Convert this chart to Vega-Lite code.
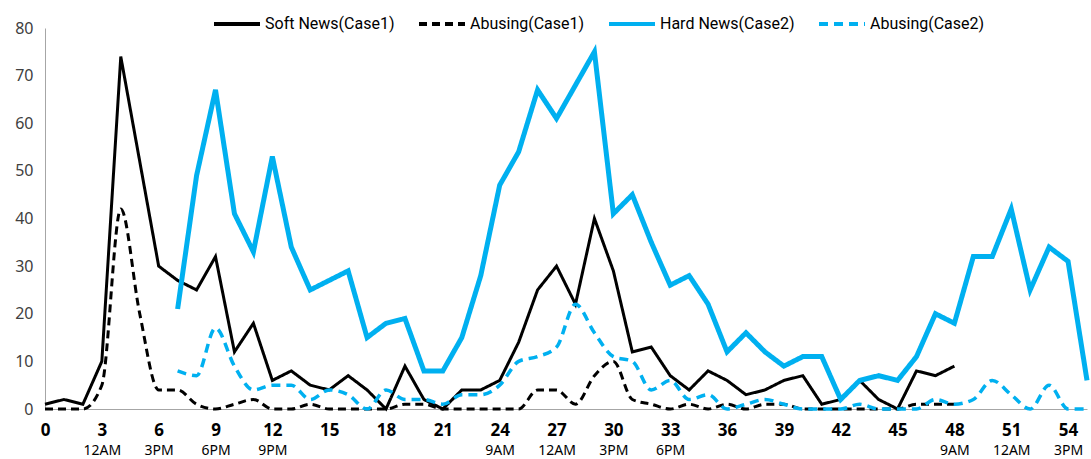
{
  "$schema": "https://vega.github.io/schema/vega-lite/v6.json",
  "width": 1042,
  "height": 381,
  "autosize": {"type": "none"},
  "padding": {"left": 45, "top": 28, "right": 4, "bottom": 50},
  "background": "white",
  "config": {"view": {"stroke": null}, "font": "Noto Sans"},
  "data": {"values": [
    {"t":0,"s":"Soft News(Case1)","v":1},{"t":1,"s":"Soft News(Case1)","v":2},{"t":2,"s":"Soft News(Case1)","v":1},{"t":3,"s":"Soft News(Case1)","v":10},{"t":4,"s":"Soft News(Case1)","v":74},{"t":5,"s":"Soft News(Case1)","v":52},{"t":6,"s":"Soft News(Case1)","v":30},{"t":7,"s":"Soft News(Case1)","v":27},{"t":8,"s":"Soft News(Case1)","v":25},{"t":9,"s":"Soft News(Case1)","v":32},{"t":10,"s":"Soft News(Case1)","v":12},{"t":11,"s":"Soft News(Case1)","v":18},{"t":12,"s":"Soft News(Case1)","v":6},{"t":13,"s":"Soft News(Case1)","v":8},{"t":14,"s":"Soft News(Case1)","v":5},{"t":15,"s":"Soft News(Case1)","v":4},{"t":16,"s":"Soft News(Case1)","v":7},{"t":17,"s":"Soft News(Case1)","v":4},{"t":18,"s":"Soft News(Case1)","v":0},{"t":19,"s":"Soft News(Case1)","v":9},{"t":20,"s":"Soft News(Case1)","v":2},{"t":21,"s":"Soft News(Case1)","v":0},{"t":22,"s":"Soft News(Case1)","v":4},{"t":23,"s":"Soft News(Case1)","v":4},{"t":24,"s":"Soft News(Case1)","v":6},{"t":25,"s":"Soft News(Case1)","v":14},{"t":26,"s":"Soft News(Case1)","v":25},{"t":27,"s":"Soft News(Case1)","v":30},{"t":28,"s":"Soft News(Case1)","v":22},{"t":29,"s":"Soft News(Case1)","v":40},{"t":30,"s":"Soft News(Case1)","v":29},{"t":31,"s":"Soft News(Case1)","v":12},{"t":32,"s":"Soft News(Case1)","v":13},{"t":33,"s":"Soft News(Case1)","v":7},{"t":34,"s":"Soft News(Case1)","v":4},{"t":35,"s":"Soft News(Case1)","v":8},{"t":36,"s":"Soft News(Case1)","v":6},{"t":37,"s":"Soft News(Case1)","v":3},{"t":38,"s":"Soft News(Case1)","v":4},{"t":39,"s":"Soft News(Case1)","v":6},{"t":40,"s":"Soft News(Case1)","v":7},{"t":41,"s":"Soft News(Case1)","v":1},{"t":42,"s":"Soft News(Case1)","v":2},{"t":43,"s":"Soft News(Case1)","v":6},{"t":44,"s":"Soft News(Case1)","v":2},{"t":45,"s":"Soft News(Case1)","v":0},{"t":46,"s":"Soft News(Case1)","v":8},{"t":47,"s":"Soft News(Case1)","v":7},{"t":48,"s":"Soft News(Case1)","v":9},
    {"t":0,"s":"Abusing(Case1)","v":0},{"t":1,"s":"Abusing(Case1)","v":0},{"t":2,"s":"Abusing(Case1)","v":0},{"t":3,"s":"Abusing(Case1)","v":5},{"t":4,"s":"Abusing(Case1)","v":42},{"t":5,"s":"Abusing(Case1)","v":20},{"t":6,"s":"Abusing(Case1)","v":4},{"t":7,"s":"Abusing(Case1)","v":4},{"t":8,"s":"Abusing(Case1)","v":1},{"t":9,"s":"Abusing(Case1)","v":0},{"t":10,"s":"Abusing(Case1)","v":1},{"t":11,"s":"Abusing(Case1)","v":2},{"t":12,"s":"Abusing(Case1)","v":0},{"t":13,"s":"Abusing(Case1)","v":0},{"t":14,"s":"Abusing(Case1)","v":1},{"t":15,"s":"Abusing(Case1)","v":0},{"t":16,"s":"Abusing(Case1)","v":0},{"t":17,"s":"Abusing(Case1)","v":0},{"t":18,"s":"Abusing(Case1)","v":0},{"t":19,"s":"Abusing(Case1)","v":1},{"t":20,"s":"Abusing(Case1)","v":1},{"t":21,"s":"Abusing(Case1)","v":0},{"t":22,"s":"Abusing(Case1)","v":0},{"t":23,"s":"Abusing(Case1)","v":0},{"t":24,"s":"Abusing(Case1)","v":0},{"t":25,"s":"Abusing(Case1)","v":0},{"t":26,"s":"Abusing(Case1)","v":4},{"t":27,"s":"Abusing(Case1)","v":4},{"t":28,"s":"Abusing(Case1)","v":1},{"t":29,"s":"Abusing(Case1)","v":7},{"t":30,"s":"Abusing(Case1)","v":10},{"t":31,"s":"Abusing(Case1)","v":2},{"t":32,"s":"Abusing(Case1)","v":1},{"t":33,"s":"Abusing(Case1)","v":0},{"t":34,"s":"Abusing(Case1)","v":1},{"t":35,"s":"Abusing(Case1)","v":0},{"t":36,"s":"Abusing(Case1)","v":1},{"t":37,"s":"Abusing(Case1)","v":0},{"t":38,"s":"Abusing(Case1)","v":1},{"t":39,"s":"Abusing(Case1)","v":1},{"t":40,"s":"Abusing(Case1)","v":0},{"t":41,"s":"Abusing(Case1)","v":0},{"t":42,"s":"Abusing(Case1)","v":0},{"t":43,"s":"Abusing(Case1)","v":0},{"t":44,"s":"Abusing(Case1)","v":0},{"t":45,"s":"Abusing(Case1)","v":0},{"t":46,"s":"Abusing(Case1)","v":1},{"t":47,"s":"Abusing(Case1)","v":1},{"t":48,"s":"Abusing(Case1)","v":1},
    {"t":7,"s":"Hard News(Case2)","v":21},{"t":8,"s":"Hard News(Case2)","v":49},{"t":9,"s":"Hard News(Case2)","v":67},{"t":10,"s":"Hard News(Case2)","v":41},{"t":11,"s":"Hard News(Case2)","v":33},{"t":12,"s":"Hard News(Case2)","v":53},{"t":13,"s":"Hard News(Case2)","v":34},{"t":14,"s":"Hard News(Case2)","v":25},{"t":15,"s":"Hard News(Case2)","v":27},{"t":16,"s":"Hard News(Case2)","v":29},{"t":17,"s":"Hard News(Case2)","v":15},{"t":18,"s":"Hard News(Case2)","v":18},{"t":19,"s":"Hard News(Case2)","v":19},{"t":20,"s":"Hard News(Case2)","v":8},{"t":21,"s":"Hard News(Case2)","v":8},{"t":22,"s":"Hard News(Case2)","v":15},{"t":23,"s":"Hard News(Case2)","v":28},{"t":24,"s":"Hard News(Case2)","v":47},{"t":25,"s":"Hard News(Case2)","v":54},{"t":26,"s":"Hard News(Case2)","v":67},{"t":27,"s":"Hard News(Case2)","v":61},{"t":28,"s":"Hard News(Case2)","v":68},{"t":29,"s":"Hard News(Case2)","v":75},{"t":30,"s":"Hard News(Case2)","v":41},{"t":31,"s":"Hard News(Case2)","v":45},{"t":32,"s":"Hard News(Case2)","v":35},{"t":33,"s":"Hard News(Case2)","v":26},{"t":34,"s":"Hard News(Case2)","v":28},{"t":35,"s":"Hard News(Case2)","v":22},{"t":36,"s":"Hard News(Case2)","v":12},{"t":37,"s":"Hard News(Case2)","v":16},{"t":38,"s":"Hard News(Case2)","v":12},{"t":39,"s":"Hard News(Case2)","v":9},{"t":40,"s":"Hard News(Case2)","v":11},{"t":41,"s":"Hard News(Case2)","v":11},{"t":42,"s":"Hard News(Case2)","v":2},{"t":43,"s":"Hard News(Case2)","v":6},{"t":44,"s":"Hard News(Case2)","v":7},{"t":45,"s":"Hard News(Case2)","v":6},{"t":46,"s":"Hard News(Case2)","v":11},{"t":47,"s":"Hard News(Case2)","v":20},{"t":48,"s":"Hard News(Case2)","v":18},{"t":49,"s":"Hard News(Case2)","v":32},{"t":50,"s":"Hard News(Case2)","v":32},{"t":51,"s":"Hard News(Case2)","v":42},{"t":52,"s":"Hard News(Case2)","v":25},{"t":53,"s":"Hard News(Case2)","v":34},{"t":54,"s":"Hard News(Case2)","v":31},{"t":55,"s":"Hard News(Case2)","v":6},
    {"t":7,"s":"Abusing(Case2)","v":8},{"t":8,"s":"Abusing(Case2)","v":7},{"t":9,"s":"Abusing(Case2)","v":17},{"t":10,"s":"Abusing(Case2)","v":9},{"t":11,"s":"Abusing(Case2)","v":4},{"t":12,"s":"Abusing(Case2)","v":5},{"t":13,"s":"Abusing(Case2)","v":5},{"t":14,"s":"Abusing(Case2)","v":2},{"t":15,"s":"Abusing(Case2)","v":4},{"t":16,"s":"Abusing(Case2)","v":3},{"t":17,"s":"Abusing(Case2)","v":0},{"t":18,"s":"Abusing(Case2)","v":4},{"t":19,"s":"Abusing(Case2)","v":2},{"t":20,"s":"Abusing(Case2)","v":2},{"t":21,"s":"Abusing(Case2)","v":1},{"t":22,"s":"Abusing(Case2)","v":3},{"t":23,"s":"Abusing(Case2)","v":3},{"t":24,"s":"Abusing(Case2)","v":5},{"t":25,"s":"Abusing(Case2)","v":10},{"t":26,"s":"Abusing(Case2)","v":11},{"t":27,"s":"Abusing(Case2)","v":13},{"t":28,"s":"Abusing(Case2)","v":22},{"t":29,"s":"Abusing(Case2)","v":16},{"t":30,"s":"Abusing(Case2)","v":11},{"t":31,"s":"Abusing(Case2)","v":10},{"t":32,"s":"Abusing(Case2)","v":4},{"t":33,"s":"Abusing(Case2)","v":6},{"t":34,"s":"Abusing(Case2)","v":2},{"t":35,"s":"Abusing(Case2)","v":3},{"t":36,"s":"Abusing(Case2)","v":0},{"t":37,"s":"Abusing(Case2)","v":1},{"t":38,"s":"Abusing(Case2)","v":2},{"t":39,"s":"Abusing(Case2)","v":1},{"t":40,"s":"Abusing(Case2)","v":0},{"t":41,"s":"Abusing(Case2)","v":0},{"t":42,"s":"Abusing(Case2)","v":0},{"t":43,"s":"Abusing(Case2)","v":1},{"t":44,"s":"Abusing(Case2)","v":0},{"t":45,"s":"Abusing(Case2)","v":0},{"t":46,"s":"Abusing(Case2)","v":0},{"t":47,"s":"Abusing(Case2)","v":2},{"t":48,"s":"Abusing(Case2)","v":1},{"t":49,"s":"Abusing(Case2)","v":2},{"t":50,"s":"Abusing(Case2)","v":6},{"t":51,"s":"Abusing(Case2)","v":3},{"t":52,"s":"Abusing(Case2)","v":0},{"t":53,"s":"Abusing(Case2)","v":5},{"t":54,"s":"Abusing(Case2)","v":0},{"t":55,"s":"Abusing(Case2)","v":0}
  ]},
  "layer": [
    {
      "encoding": {
        "x": {"field": "t", "type": "quantitative", "scale": {"domain": [0, 55], "nice": false, "zero": false},
          "axis": {"orient": "bottom", "values": [0,3,6,9,12,15,18,21,24,27,30,33,36,39,42,45,48,51,54], "title": null, "grid": false, "ticks": false,
            "labelFlush": false, "labelOverlap": false, "labelFontWeight": "bold", "labelFontSize": 17, "labelColor": "#000000",
            "labelPadding": 13, "domainColor": "#a6a6a6", "domainWidth": 1}},
        "y": {"field": "v", "type": "quantitative", "scale": {"domain": [0, 80], "nice": false},
          "axis": {"values": [0,10,20,30,40,50,60,70,80], "title": null, "grid": false, "ticks": false, "labelFontSize": 16,
            "labelColor": "#404040", "labelPadding": 12, "domainColor": "#a6a6a6", "domainWidth": 1}},
        "color": {"field": "s", "type": "nominal",
          "scale": {"domain": ["Soft News(Case1)", "Abusing(Case1)", "Hard News(Case2)", "Abusing(Case2)"], "range": ["#000000", "#000000", "#00b0f0", "#00b0f0"]},
          "legend": {"orient": "none", "legendX": 167, "legendY": -29, "direction": "horizontal", "gridAlign": "none", "title": null, "symbolType": "stroke",
            "symbolSize": 2116, "symbolStrokeWidth": 4, "labelFont": "Roboto", "labelFontSize": 16, "labelColor": "#000000", "columnPadding": 16, "labelOffset": 3}},
        "strokeDash": {"field": "s", "type": "nominal",
          "scale": {"domain": ["Soft News(Case1)", "Abusing(Case1)", "Hard News(Case2)", "Abusing(Case2)"], "range": [[1, 0], [8, 5], [1, 0], [9, 6]]},
          "legend": {"orient": "none", "legendX": 167, "legendY": -29, "direction": "horizontal", "gridAlign": "none", "title": null, "symbolType": "stroke",
            "symbolSize": 2116, "symbolStrokeWidth": 4, "labelFont": "Roboto", "labelFontSize": 16, "labelColor": "#000000", "columnPadding": 16, "labelOffset": 3}}
      },
      "layer": [
        {"transform": [{"filter": "datum.s === 'Soft News(Case1)'"}], "mark": {"type": "line", "strokeWidth": 3, "strokeJoin": "miter"}},
        {"transform": [{"filter": "datum.s === 'Abusing(Case1)'"}], "mark": {"type": "line", "strokeWidth": 3, "interpolate": "monotone"}},
        {"transform": [{"filter": "datum.s === 'Hard News(Case2)'"}], "mark": {"type": "line", "strokeWidth": 5, "strokeJoin": "miter"}},
        {"transform": [{"filter": "datum.s === 'Abusing(Case2)'"}], "mark": {"type": "line", "strokeWidth": 3.5, "interpolate": "monotone"}}
      ]
    },
    {
      "transform": [{"filter": "datum.s === 'Hard News(Case2)'"}],
      "mark": {"type": "rule", "opacity": 0},
      "encoding": {
        "x": {"field": "t", "type": "quantitative", "scale": {"domain": [0, 55], "nice": false, "zero": false},
          "axis": {"orient": "bottom", "values": [3,6,9,12,24,27,30,33,48,51,54], "labelExpr": "['12AM','3PM','6PM','9PM','','','','9AM','12AM','3PM','6PM','','','','','9AM','12AM','3PM'][datum.value/3 - 1]",
            "title": null, "grid": false, "ticks": false, "domain": false, "offset": 22, "labelPadding": 12, "labelFlush": false, "labelOverlap": false,
            "labelFontSize": 14, "labelColor": "#000000"}}
      }
    }
  ],
  "resolve": {"axis": {"x": "independent"}}
}
